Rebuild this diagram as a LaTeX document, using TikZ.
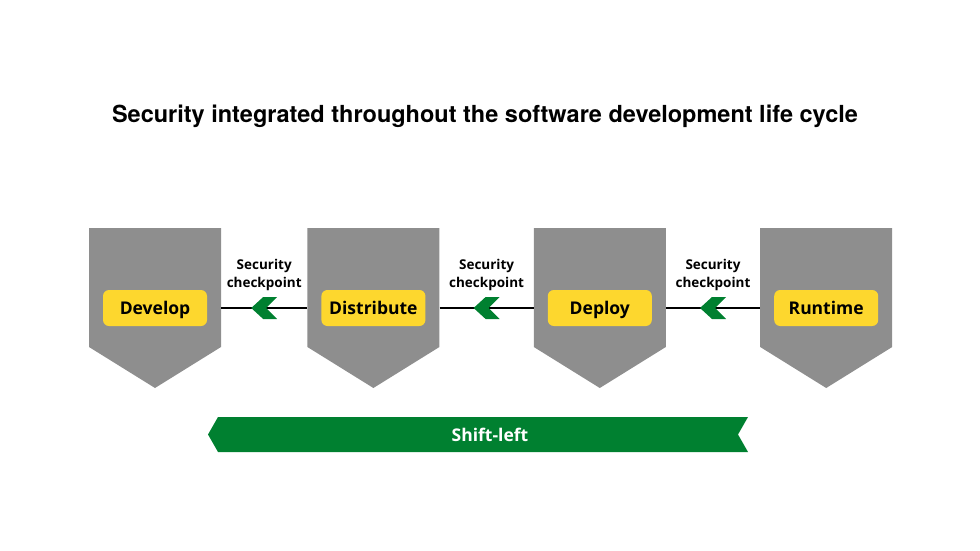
\documentclass[tikz,border=0pt]{standalone}
\usepackage{fontspec}
\setmainfont{Open Sans}
\newfontfamily\headfont{TeX Gyre Heros}
\usetikzlibrary{positioning,calc}
\definecolor{stagegray}{RGB}{142,142,142}
\definecolor{tagyellow}{RGB}{253,215,46}
\definecolor{shiftgreen}{RGB}{0,128,48}

\begin{document}
\begin{tikzpicture}[
  x=1pt, y=-1pt,
  stage/.style = {minimum width=132pt, minimum height=160pt, inner sep=0pt,
                  path picture={\fill[stagegray]
                    (path picture bounding box.north west) --
                    (path picture bounding box.north east) --
                    ([yshift=41pt]path picture bounding box.south east) --
                    (path picture bounding box.south) --
                    ([yshift=41pt]path picture bounding box.south west) -- cycle;}},
  tag/.style  = {fill=tagyellow, rounded corners=6pt, minimum width=104pt,
                 minimum height=36pt, inner sep=0pt,
                 text height=12.6pt, text depth=0pt,
                 font=\fontsize{17.5}{20}\selectfont\bfseries},
  ckpt/.style = {align=center, inner sep=0pt,
                 font=\fontsize{13.5}{18}\selectfont\bfseries},
  link/.style = {line width=1.5pt, black},
  chev/.pic   = {\fill[shiftgreen] (-13,0) -- (-1,-11) -- (13,-11) -- (2,0)
                   -- (13,11) -- (-1,11) -- cycle;},
  banner/.style = {minimum width=540pt, minimum height=35pt, inner sep=0pt,
                   path picture={\fill[shiftgreen]
                    (path picture bounding box.west) --
                    ([xshift=10pt]path picture bounding box.north west) --
                    (path picture bounding box.north east) --
                    ([xshift=-10pt]path picture bounding box.east) --
                    (path picture bounding box.south east) --
                    ([xshift=10pt]path picture bounding box.south west) -- cycle;}},
]
\useasboundingbox (0,0) rectangle (980,551);
% title
\node[font=\headfont\fontsize{23.5}{26}\selectfont\bfseries] (title) at (485,116)
  {Security integrated throughout the software development life cycle};
% stages
\node[stage] (dev) at (155,308) {};
\node[stage, right=86pt of dev] (dist) {};
\node[stage, right=94pt of dist] (depl) {};
\node[stage, right=94pt of depl] (run) {};
\node[tag] (devtag)  at (dev)  {Develop};
\node[tag] (disttag) at (dist) {Distribute};
\node[tag] (depltag) at (depl) {Deploy};
\node[tag] (runtag)  at (run)  {Runtime};
% checkpoints
\draw[link] (dev) -- coordinate (c1) (dist);
\draw[link] (dist) -- coordinate (c2) (depl);
\draw[link] (depl) -- coordinate (c3) (run);
\pic at (c1) {chev};
\pic at (c2) {chev};
\pic at (c3) {chev};
\node[ckpt, above=17pt of c1] (ck1) {Security\\ checkpoint};
\node[ckpt, above=17pt of c2] (ck2) {Security\\ checkpoint};
\node[ckpt, above=17pt of c3] (ck3) {Security\\ checkpoint};
% shift-left
\node[banner] (shift) at (478,434.5) {};
\node[font=\fontsize{17.5}{20}\selectfont\bfseries, text=white]
  (shifttxt) at ([xshift=12pt]shift.center) {Shift-left};
\end{tikzpicture}
\end{document}
